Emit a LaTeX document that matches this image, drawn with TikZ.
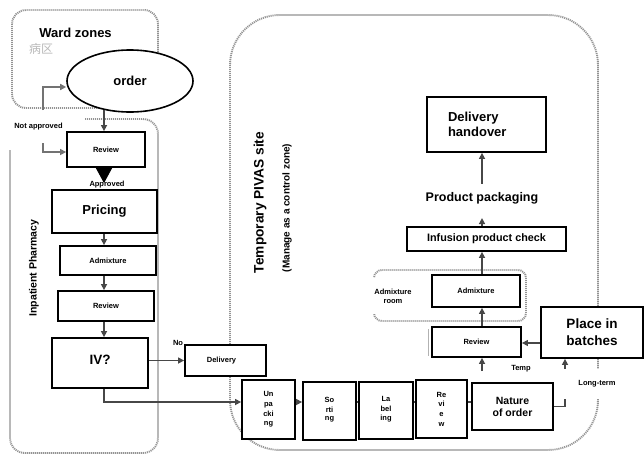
\documentclass[tikz,border=0pt]{standalone}
\usepackage{fontspec}
\setmainfont{Liberation Sans}
\newfontfamily\cjk{Noto Sans CJK SC}
\usetikzlibrary{shapes.geometric,arrows.meta,calc}
\begin{document}
\begin{tikzpicture}[x=1pt,y=-1pt,
  box/.style={draw=black, line width=1.8pt, fill=white, inner sep=0pt, align=center,
    font=\bfseries\fontsize{7.5}{9.7}\selectfont},
  bigtxt/.style={font=\bfseries\fontsize{13}{15}\selectfont},
  zone/.style={draw=gray!85, line width=1.9pt, dash pattern=on 1.1pt off 0.9pt},
  arr/.style={draw=black!72, line width=1.4pt, -{Triangle[width=6pt,length=6pt]}},
  link/.style={draw=black!72, line width=1.4pt},
  lbl/.style={inner sep=1pt, font=\bfseries\fontsize{7.5}{9}\selectfont},
]
\useasboundingbox[fill=white] (0,0) rectangle (644,455);

% zones
\draw[zone, rounded corners=14pt] (12,10) rectangle (158,108);
\draw[zone, rounded corners=15pt] (85,119) -- (158,119) -- (158,453) -- (10,453) -- (10,150);
\draw[zone, rounded corners=50pt] (230,15) rectangle (598,450);
\draw[zone, rounded corners=8pt] (374,270) rectangle (526,321);

% zone labels
\node[font=\bfseries\fontsize{13}{15}\selectfont] (wz) at (75.5,33) {Ward zones};
\node[font=\cjk\fontsize{12}{14}\selectfont, text=gray!55] (bq) at (41,48.5) {病区};
\node[rotate=90, font=\bfseries\fontsize{10.5}{12}\selectfont] (ip) at (34,268) {Inpatient Pharmacy};
\node[rotate=90, font=\bfseries\fontsize{13.7}{15}\selectfont] (tp) at (260,202.5) {Temporary PIVAS site};
\node[rotate=90, font=\bfseries\fontsize{10}{12}\selectfont] (mc) at (287,208) {(Manage as a control zone)};
\node[lbl, fill=white, align=center, minimum height=36pt] (room) at (393,296) {Admixture\\room};

% left column
\node[ellipse, draw=black, line width=1.6pt, fill=white, minimum width=126pt, minimum height=62pt,
  inner sep=0pt, font=\bfseries\fontsize{13}{15}\selectfont] (order) at (130,81) {order};
\node[box, minimum width=78pt, minimum height=35pt] (rev1) at (106,149.5) {Review};
\node[box, minimum width=105pt, minimum height=43pt, bigtxt] (pricing) at (104.5,211.5) {\raisebox{3pt}{Pricing}};
\node[box, minimum width=96pt, minimum height=29pt] (adm1) at (108,260.5) {Admixture};
\node[box, minimum width=96pt, minimum height=30pt] (rev2) at (106,306) {Review};
\node[box, minimum width=96pt, minimum height=50pt, font=\bfseries\fontsize{13.5}{15}\selectfont] (iv) at (100,363) {\raisebox{6pt}{IV?}};
\node[box, minimum width=81pt, minimum height=31pt] (deliv) at (225.5,360.5) {\hspace*{-8pt}Delivery};

% bottom row
\node[box, minimum width=53pt, minimum height=59pt] (unp) at (268.5,409.5) {Un\\pa\\cki\\ng};
\node[box, minimum width=53pt, minimum height=58pt] (sort) at (329.5,411) {\raisebox{4pt}{\shortstack{So\\[1pt]rti\\[1pt]ng}}};
\node[box, minimum width=54pt, minimum height=57pt] (lab) at (386,410.5) {\raisebox{4pt}{\shortstack{La\\[1pt]bel\\[1pt]ing}}};
\node[box, minimum width=51pt, minimum height=58pt] (rev3) at (441.5,409) {Re\\vi\\e\\w};
\node[box, minimum width=81pt, minimum height=47pt, font=\bfseries\fontsize{10.5}{12}\selectfont] (nature) at (512.5,406.5) {Nature\\of order};

% right column
\node[box, minimum width=89pt, minimum height=30pt] (rev4) at (476.5,342) {Review};
\node[box, minimum width=102pt, minimum height=51pt, font=\bfseries\fontsize{13.5}{17}\selectfont] (place) at (592,332.5) {Place in\\batches};
\node[box, minimum width=88pt, minimum height=32pt] (adm2) at (476,291) {Admixture};
\node[box, minimum width=159pt, minimum height=24pt, font=\bfseries\fontsize{10.8}{12}\selectfont] (infu) at (486.5,239) {Infusion product check};
\node[bigtxt, inner sep=1pt, font=\bfseries\fontsize{12.5}{14}\selectfont] (pack) at (482,198) {Product packaging};
\node[box, bigtxt, align=left, inner xsep=21pt, text width=77pt, minimum height=55pt] (dh) at (486.5,124.5) {Delivery\\handover};

% helper coordinates
\coordinate (cx) at (104,0);
\coordinate (px) at (482,0);
\coordinate (ry) at (0,402);
\coordinate (py) at (0,343);
\coordinate (lx) at (565,0);
\coordinate (nx) at (0,87);
\coordinate (ny) at (0,152);
\coordinate (na1) at (43,110);
\coordinate (na2) at (43,143);

% labels
\node[lbl] (napp) at (38.5,127) {Not approved};
\node[lbl] (appr) at (107,185) {Approved};
\node[lbl] (no) at (178,343) {No};
\node[lbl] (temp) at (521,369) {Temp};

% connectors left
\draw[arr] ($(cx |- order.south)+(0,-3)$) -- (cx |- rev1.north);
\draw[black, line width=1pt, -{Triangle[width=16pt,length=15pt]}, shorten >=6pt] (cx |- rev1.south) -- (cx |- pricing.north);
\draw[arr] (cx |- pricing.south) -- (cx |- adm1.north);
\draw[arr] (cx |- adm1.south) -- (cx |- rev2.north);
\draw[arr] (cx |- rev2.south) -- (cx |- iv.north);
\draw[arr] (iv.east |- deliv.west) -- (deliv.west);
\draw[arr] (cx |- iv.south) |- (unp.west |- ry);
\draw[arr, draw=black!55] (na1) |- (order.west |- nx);
\draw[arr, draw=black!55] (na2) |- (rev1.west |- ny);

% bottom row connectors
\draw[arr] (unp.east |- ry) -- (sort.west |- ry);
\draw[link] (sort.east |- ry) -- (lab.west |- ry);
\draw[link] (lab.east |- ry) -- (rev3.west |- ry);
\draw[link] (rev3.east |- ry) -- (nature.west |- ry);

% right connectors
\draw[arr, shorten <=11pt] (px |- nature.north) -- (px |- rev4.south);
\draw[arr] (nature.east) -| (lx |- place.south);
\node[lbl, fill=white, minimum width=70pt, minimum height=30pt] (lt) at (597,384) {Long-term};
\draw[arr] (place.west |- py) -- (rev4.east |- py);
\draw[arr] (px |- rev4.north) -- (px |- adm2.south);
\draw[arr] (px |- adm2.north) -- (px |- infu.south);
\draw[arr, shorten >=13pt] (px |- infu.north) -- (px |- pack.south);
\draw[arr, shorten <=7pt] (px |- pack.north) -- (px |- dh.south);

\draw[gray!60, line width=1pt] (428,329) -- (428,356);
\end{tikzpicture}
\end{document}
